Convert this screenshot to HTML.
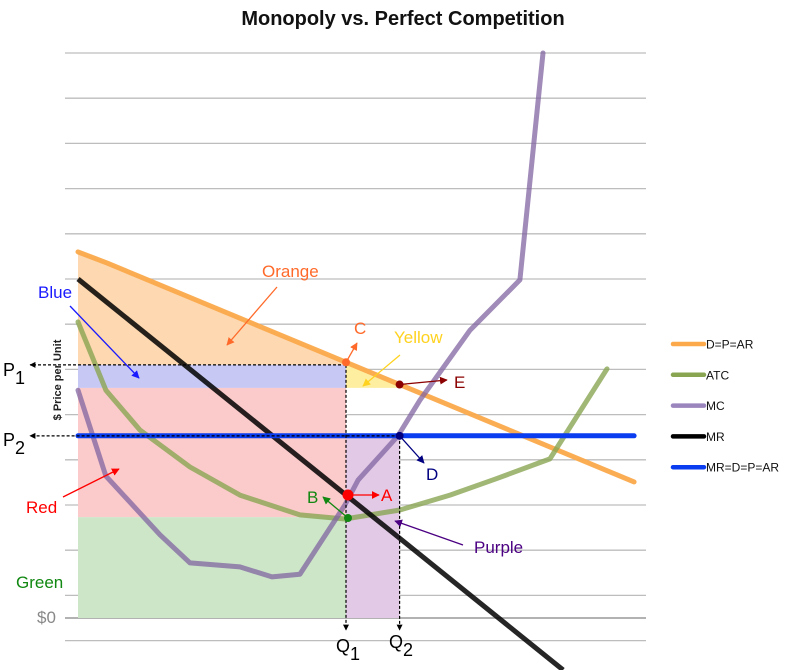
<!DOCTYPE html>
<html><head><meta charset="utf-8">
<style>
body{margin:0;background:#fff;}
svg{display:block;font-family:"Liberation Sans",sans-serif;}
</style></head>
<body>
<svg id="chart" width="795" height="670" viewBox="0 0 795 670">
<defs>
<marker id="ah" viewBox="0 0 10 10" refX="9" refY="5" markerWidth="6" markerHeight="6" orient="auto-start-reverse"><path d="M0,0 L10,5 L0,10 z" fill="context-stroke"/></marker>
<marker id="ahk" viewBox="0 0 10 10" refX="9" refY="5" markerWidth="5" markerHeight="5" orient="auto"><path d="M0,0 L10,5 L0,10 z" fill="#000"/></marker>
</defs>
<text x="403" y="25" text-anchor="middle" font-size="20" font-weight="bold" fill="#111">Monopoly vs. Perfect Competition</text>
<g id="grid"></g>
<g id="areas"></g>
<g id="lines"></g>
<g id="annot"></g>
<text transform="translate(61,380) rotate(-90)" text-anchor="middle" font-size="11" font-weight="bold" fill="#222">$ Price per Unit</text>
<g id="legend"></g>
</svg>
<script>
// data
const demandQ=[0,1.1,20.75];
const demandP=[8.1,7.85,3.01];
const mrQ=[0,18.1];
const mrP=[7.5,-1.15];
const mcQ=[0,1.04,3.06,4.18,6.04,7.24,8.28,9.96,10.45,11.94,12.76,14.63,16.49,17.35];
const mcP=[5.04,3.14,1.84,1.22,1.13,0.91,0.97,2.5,3.05,4.03,4.82,6.37,7.48,12.5];
const atcQ=[0,1.04,2.31,4.18,6.04,8.28,9.96,12.01,13.88,15.56,17.61,19.74];
const atcP=[6.55,5.04,4.16,3.34,2.72,2.28,2.19,2.39,2.72,3.07,3.52,5.51];
const pcPrice=[4.03];
const pcQ=[0,20.75];
const monoP=[5.6];      // P1
const atcAtQ1=[5.09];   // blue rect bottom
const avcAtQ1=[2.23];   // red rect bottom
const quantities=[10,12]; // Q1, Q2
const gridValues=[-0.5,0.5,1.5,2.5,3.5,4.5,5.5,6.5,7.5,8.5,9.5,10.5,11.5,12.5];

const NS="http://www.w3.org/2000/svg";
const X=q=>78+q*26.8;
const Y=v=>618-v*45.2;
function mk(parent,tag,attrs){const e=document.createElementNS(NS,tag);for(const k in attrs)e.setAttribute(k,attrs[k]);document.getElementById(parent).appendChild(e);return e;}
function pts(qs,ps){return qs.map((q,i)=>X(q).toFixed(1)+","+Y(ps[i]).toFixed(1)).join(" ");}
function dAt(q){for(let i=0;i<demandQ.length-1;i++){if(q<=demandQ[i+1]){const t=(q-demandQ[i])/(demandQ[i+1]-demandQ[i]);return demandP[i]+t*(demandP[i+1]-demandP[i]);}}return demandP[demandP.length-1];}

// grid
gridValues.forEach((v,i)=>{
  const l=mk('grid','line',{x1:65,x2:646,y1:Y(v),y2:Y(v),stroke:'#bdbdbd','stroke-width':1.3});
  
  
});
const ax=mk('grid','line',{x1:65,x2:646,y1:Y(0),y2:Y(0),stroke:'#999','stroke-width':1.5});



const Q1=quantities[0],Q2=quantities[1],P1=monoP[0],P2=pcPrice[0],B1=atcAtQ1[0],R1=avcAtQ1[0];
// areas
let op=[X(0)+","+Y(P1)];for(let q=0;q<=Q1+0.001;q+=0.1)op.push(X(q)+","+Y(dAt(q)));op.push(X(Q1)+","+Y(P1));
const orange=mk('areas','polygon',{points:op.join(" "),fill:'#fdd8b0'});


const blue=mk('areas','rect',{x:X(0),y:Y(P1),width:X(Q1)-X(0),height:Y(B1)-Y(P1),fill:'#c8c8f5'});


const red=mk('areas','rect',{x:X(0),y:Y(B1),width:X(Q1)-X(0),height:Y(R1)-Y(B1),fill:'#fbcaca'});


const green=mk('areas','rect',{x:X(0),y:Y(R1),width:X(Q1)-X(0),height:Y(0)-Y(R1),fill:'#cde6c8'});


let yp=[X(Q1)+","+Y(P1)];for(let q=Q1;q<=Q2+0.001;q+=0.1){const v=dAt(q);if(v<B1)break;yp.push(X(q)+","+Y(v));}
const qe=Q1+ (P1-B1)/((demandP[1]-demandP[2])/(demandQ[2]-demandQ[1]));
yp.push(X(qe)+","+Y(B1));yp.push(X(Q1)+","+Y(B1));
const yellow=mk('areas','polygon',{points:yp.join(" "),fill:'#fdeea0'});


const purple=mk('areas','rect',{x:X(Q1),y:Y(P2),width:X(Q2)-X(Q1),height:Y(0)-Y(P2),fill:'#e2c9e6'});



// lines
const lD=mk('lines','polyline',{points:pts(demandQ,demandP),fill:'none',stroke:'#fba94b','stroke-width':5,'stroke-opacity':0.95,'stroke-linecap':'round'});


const lA=mk('lines','polyline',{points:pts(atcQ,atcP),fill:'none',stroke:'#8aa552','stroke-width':5,'stroke-opacity':0.8,'stroke-linecap':'round','stroke-linejoin':'round'});


const lM=mk('lines','polyline',{points:pts(mcQ,mcP),fill:'none',stroke:'#8064a2','stroke-width':5,'stroke-opacity':0.75,'stroke-linecap':'round','stroke-linejoin':'round'});


const lR=mk('lines','polyline',{points:pts(mrQ,mrP),fill:'none',stroke:'#000','stroke-width':5,'stroke-opacity':0.85});


const lP=mk('lines','polyline',{points:pts(pcQ,[P2,P2]),fill:'none',stroke:'#0a3cf0','stroke-width':5,'stroke-linecap':'round'});



// dashed guides
function dash(x1,y1,x2,y2,name){const l=mk('annot','line',{x1,y1,x2,y2,stroke:'#000','stroke-width':1.2,'stroke-dasharray':'3,2','marker-end':'url(#ahk)'});}
dash(X(Q1),Y(P1),30,Y(P1),'p1-guide');
dash(X(Q2),Y(P2),30,Y(P2),'p2-guide');
dash(X(Q1),Y(P1),X(Q1),630,'q1-guide');
dash(X(Q2),Y(P2),X(Q2),630,'q2-guide');

function arrow(x1,y1,x2,y2,c,name){const l=mk('annot','line',{x1,y1,x2,y2,stroke:c,'stroke-width':1.3,'marker-end':'url(#ah)'});}
function dot(x,y,r,c,name){const d=mk('annot','circle',{cx:x,cy:y,r,fill:c});}
function label(x,y,t,c,s,name,sub){const e=mk('annot','text',{x,y,fill:c,'font-size':s});e.textContent=t;if(sub){const ts=document.createElementNS(NS,'tspan');ts.setAttribute('dy','8');ts.setAttribute('font-size',s);ts.textContent=sub;e.appendChild(ts);}}

arrow(277,287,227,345,'#ff6a2a','orange-arrow');
arrow(70,306,139,378,'#1a1aff','blue-arrow');
arrow(63,497,119,469,'#ff0000','red-arrow');
arrow(400,355,363,386,'#ffd21f','yellow-arrow');
arrow(X(Q1),Y(dAt(Q1)),357,343,'#ff6a2a','c-arrow');
arrow(X(Q2),Y(dAt(Q2)),447,380,'#8b0000','e-arrow');
arrow(X(Q2),Y(P2),424,463,'#000080','d-arrow');
arrow(348,495,379,495,'#ff0000','a-arrow');
arrow(348,518,323,497,'#118811','b-arrow');
arrow(463,545,395,521,'#4b0082','purple-arrow');

dot(X(Q1),Y(dAt(Q1)),4,'#ff6a2a','point-c');
dot(X(Q2),Y(dAt(Q2)),4,'#8b0000','point-e');
dot(X(Q2),Y(P2),4,'#000080','point-d');
dot(348,495,5.5,'#ff0000','point-a');
dot(348,518,4,'#118811','point-b');

label(262,277,'Orange','#ff6a2a',17,'orange-label');
label(38,298,'Blue','#1a1aff',17,'blue-label');
label(26,513,'Red','#ff0000',17,'red-label');
label(16,588,'Green','#118811',17,'green-label');
label(394,343,'Yellow','#ffd21f',17,'yellow-label');
label(354,334,'C','#ff6a2a',17,'c-label');
label(454,388,'E','#8b0000',17,'e-label');
label(426,480,'D','#000080',17,'d-label');
label(381,501,'A','#ff0000',17,'a-label');
label(307,503,'B','#118811',17,'b-label');
label(474,553,'Purple','#4b0082',17,'purple-label');
label(3,376,'P','#000',18,'p1-label','1');
label(3,446,'P','#000',18,'p2-label','2');
label(37,623,'$0','#888',17,'zero-label');
label(336,652,'Q','#000',18,'q1-label','1');
label(389,648,'Q','#000',18,'q2-label','2');

// legend
const legNames=['D=P=AR','ATC','MC','MR','MR=D=P=AR'];
const legColors=['#fba94b','#8aa552','#9b85bd','#000','#0a3cf0'];
legNames.forEach((n,i)=>{
  const y=344+i*30.8;
  const l=mk('legend','line',{x1:673,x2:704,y1:y,y2:y,stroke:legColors[i],'stroke-width':4.5,'stroke-linecap':'round'});
  
  
  const t=mk('legend','text',{x:706,y:y+4.5,'font-size':12,fill:'#111'});
  t.textContent=n;
  
  
});
</script>
</body></html>
